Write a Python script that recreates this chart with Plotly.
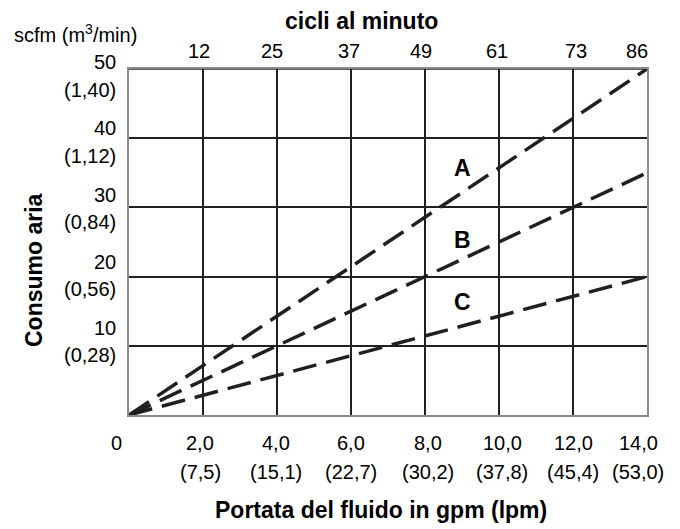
import plotly.graph_objects as go

# ---- data ----
flow_gpm = [0, 14]
series_names = ["A", "B", "C"]
series_scfm = {"A": [0, 50], "B": [0, 35], "C": [0, 20]}
label_pos = {"A": (9.0, 35.7), "B": (9.0, 25.3), "C": (9.0, 16.3)}

x_ticks = [0, 2, 4, 6, 8, 10, 12, 14]
x_tick_gpm = ["0", "2,0", "4,0", "6,0", "8,0", "10,0", "12,0", "14,0"]
x_tick_lpm = ["", "(7,5)", "(15,1)", "(22,7)", "(30,2)", "(37,8)", "(45,4)", "(53,0)"]
cycle_ticks = [2, 4, 6, 8, 10, 12, 14]
cycle_labels = ["12", "25", "37", "49", "61", "73", "86"]
y_ticks = [10, 20, 30, 40, 50]
y_tick_scfm = ["10", "20", "30", "40", "50"]
y_tick_m3 = ["(0,28)", "(0,56)", "(0,84)", "(1,12)", "(1,40)"]

FONT = "Liberation Sans, Arial, Helvetica, sans-serif"
INK = "#231f20"
TICK = 20
TITLE = 23

fig = go.Figure()
for name in series_names:
    fig.add_trace(go.Scatter(
        x=flow_gpm, y=series_scfm[name], mode="lines",
        line=dict(color=INK, width=3.5, dash="24px,10px"),
        showlegend=False, hoverinfo="skip", cliponaxis=False))

def txt(**kw):
    d = dict(showarrow=False, xanchor="center", yanchor="middle")
    d.update(kw)
    return d

ann = []
for name in series_names:
    lx, ly = label_pos[name]
    ann.append(txt(x=lx, y=ly, xref="x", yref="y", text="<b>%s</b>" % name,
                   font=dict(size=TITLE, color="black", family=FONT)))

# bottom tick labels (two lines)
bottom_xshift = [-13, -3, -1, 0, 3, 3, 0, -9]
for v, t1, t2, xs in zip(x_ticks, x_tick_gpm, x_tick_lpm, bottom_xshift):
    ann.append(txt(x=v, y=0, xref="x", yref="y", text=t1,
                   yshift=-28, xshift=xs, font=dict(size=TICK, color="black", family=FONT)))
    if t2:
        ann.append(txt(x=v, y=0, xref="x", yref="y", text=t2,
                       yshift=-57, xshift=xs, font=dict(size=TICK, color="black", family=FONT)))

# top tick labels (cycles per minute)
top_xshift = [-4, -5, -2, -4, -2, 3, -10]
for v, t, xs in zip(cycle_ticks, cycle_labels, top_xshift):
    ann.append(txt(x=v, y=50, xref="x", yref="y", text=t,
                   yshift=18, xshift=xs, font=dict(size=TICK, color="black", family=FONT)))

# left tick labels (two per tick)
for v, t1, t2 in zip(y_ticks, y_tick_scfm, y_tick_m3):
    k = (50 - v) / 10.0
    ann.append(txt(x=0, y=v, xref="x", yref="y", text=t1,
                   xanchor="right", xshift=-11, yshift=7 + 2.7 * k,
                   font=dict(size=TICK, color="black", family=FONT)))
    ann.append(txt(x=0, y=v, xref="x", yref="y", text=t2,
                   xanchor="right", xshift=-11, yshift=-21 + 3.0 * k,
                   font=dict(size=TICK, color="black", family=FONT)))

# titles
ann.append(txt(x=0.448, y=1.139, xref="paper", yref="paper", text="<b>cicli al minuto</b>",
               font=dict(size=TITLE, color="black", family=FONT)))
ann.append(txt(x=0.487, y=-0.2746, xref="paper", yref="paper",
               text="<b>Portata del fluido in gpm (lpm)</b>",
               font=dict(size=TITLE, color="black", family=FONT)))
ann.append(txt(x=-0.1834, y=0.419, xref="paper", yref="paper", text="<b>Consumo aria</b>",
               textangle=-90, font=dict(size=TITLE, color="black", family=FONT)))
ann.append(txt(x=-0.2259, y=1.104, xref="paper", yref="paper", xanchor="left",
               text="scfm (m<sup>3</sup>/min)",
               font=dict(size=TICK, color="black", family=FONT)))

fig.update_layout(
    width=672, height=521, autosize=False,
    margin=dict(l=121, r=33, t=61, b=114),
    paper_bgcolor="white", plot_bgcolor="white",
    font=dict(family=FONT, size=TICK, color="black"),
    annotations=ann,
    xaxis=dict(range=[0, 14], tickvals=x_ticks, showticklabels=False, ticks="",
               showgrid=True, gridcolor=INK, gridwidth=1.5, zeroline=False,
               showline=True, linecolor="#8a8a8a", linewidth=1.5, mirror=True,
               fixedrange=True),
    yaxis=dict(range=[0, 50], tickvals=y_ticks, showticklabels=False, ticks="",
               showgrid=True, gridcolor=INK, gridwidth=1.5, zeroline=False,
               showline=True, linecolor="#8a8a8a", linewidth=1.5, mirror=True,
               fixedrange=True),
)
fig.add_shape(type="line", xref="x", yref="y", x0=0, x1=14, y0=50, y1=50,
              line=dict(color=INK, width=1.5), layer="below")

fig.write_html("out.html")
